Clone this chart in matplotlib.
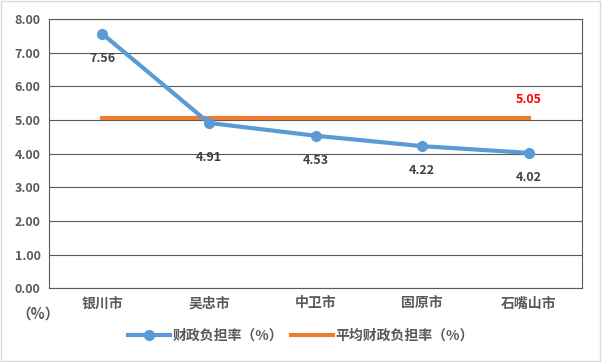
import matplotlib
matplotlib.use("Agg")
import matplotlib.pyplot as plt
from matplotlib.patches import Rectangle

plt.rcParams['font.family'] = ['Noto Sans CJK SC', 'DejaVu Sans']

cities = ["银川市", "吴忠市", "中卫市", "固原市", "石嘴山市"]
burden = [7.56, 4.91, 4.53, 4.22, 4.02]
avg_burden = 5.05
yticks = [0, 1, 2, 3, 4, 5, 6, 7, 8]

blue = "#5b9bd5"
orange = "#ed7d31"
txt = "#595959"

fig = plt.figure(figsize=(6.02, 3.62), dpi=100)
ax = fig.add_axes([0.0814, 0.204, 0.8856, 0.7436])

x = list(range(len(cities)))
ax.plot(x, burden, color=blue, lw=3, marker="o", ms=7, label="财政负担率（%）", zorder=3)
ax.plot(x, [avg_burden] * len(x), color=orange, lw=3, label="平均财政负担率（%）", zorder=2)

# data labels under the points; the 吴忠市 one is pushed down clear of the average line
for i, v in zip(x, burden):
    dy = -20 if i == 1 else -13
    ax.annotate(f"{v:.2f}", (i, v), xytext=(0, dy), textcoords="offset points",
                ha="center", va="top", fontsize=9, fontweight="bold", color="#404040")
ax.annotate(f"{avg_burden:.2f}", (x[-1], avg_burden), xytext=(0, 9), textcoords="offset points",
            ha="center", va="bottom", fontsize=9, fontweight="bold", color="red")

ax.set_xlim(-0.5, len(cities) - 0.5)
ax.set_ylim(0, 8)
ax.set_yticks(yticks)
ax.set_yticklabels([f"{t:.2f}" for t in yticks], fontsize=9, fontweight="bold", color=txt)
ax.set_xticks(x)
ax.set_xticklabels(cities, fontsize=10, fontweight="bold", color=txt)
ax.tick_params(length=0, pad=6)
ax.grid(axis="y", color="#595959", lw=0.8)
ax.set_axisbelow(True)
for s in ax.spines.values():
    s.set_color("#595959")
    s.set_linewidth(0.8)

fig.text(0.063, 0.135, "（%）", ha="center", va="center", fontsize=10.5, fontweight="bold", color=txt)

leg = fig.legend(loc="center", bbox_to_anchor=(0.5, 0.072), ncol=2, frameon=False,
                 fontsize=10, handlelength=3, columnspacing=0.6, handletextpad=0.2)
for t in leg.get_texts():
    t.set_color(txt)
    t.set_fontweight("bold")

fig.patches.append(Rectangle((0.002, 0.003), 0.995, 0.993, transform=fig.transFigure,
                             fill=False, edgecolor="#d9d9d9", lw=1))

fig.savefig("out.png", dpi=100)
